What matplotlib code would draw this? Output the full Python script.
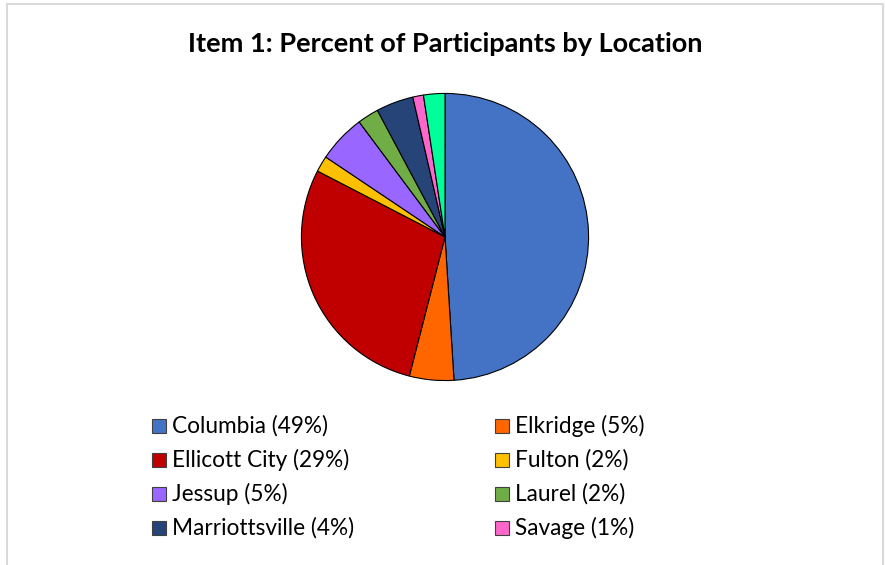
import matplotlib.pyplot as plt
from matplotlib.patches import Rectangle

# Data (percent of participants)
locations = ['Columbia', 'Elkridge', 'Ellicott City', 'Fulton', 'Jessup',
             'Laurel', 'Marriottsville', 'Savage', 'Other']
values = [49.0, 5.0, 28.6, 1.8, 5.4, 2.4, 4.2, 1.2, 2.4]
legend_labels = ['Columbia (49%)', 'Elkridge (5%)', 'Ellicott City (29%)', 'Fulton (2%)',
                 'Jessup (5%)', 'Laurel (2%)', 'Marriottsville (4%)', 'Savage (1%)']
colors = ['#4472C4', '#FF6600', '#C00000', '#FFC000', '#9966FF',
          '#70AD47', '#264478', '#FF66CC', '#00FF99']

W, H = 885, 565
fig = plt.figure(figsize=(W / 100, H / 100), dpi=100)
font = 'Lato'

# light grey chart-area border (bottom is cut off in the original)
fig.add_artist(Rectangle((6.5 / W, -0.05), 876 / W, (H - 3.5) / H + 0.05,
                         transform=fig.transFigure, fill=False,
                         edgecolor='#D9D9D9', linewidth=1.5))

fig.text(445 / W, 1 - 44 / H, 'Item 1: Percent of Participants by Location',
         ha='center', va='center', fontsize=19.5, fontweight='bold',
         family=font, color='black')

# pie: centre (445, 237) px, radius 145 px
cx, cy, r = 445, 237, 145
ax = fig.add_axes([(cx - r) / W, (H - cy - r) / H, 2 * r / W, 2 * r / H])
ax.pie(values, colors=colors, startangle=90, counterclock=False, radius=1,
       wedgeprops={'edgecolor': 'black', 'linewidth': 0.8})
ax.set_xlim(-1.01, 1.01)
ax.set_ylim(-1.01, 1.01)
ax.set_aspect('equal')
ax.axis('off')

# legend, two columns
for i, lab in enumerate(legend_labels):
    col, row = i % 2, i // 2
    x0 = 152 + col * 343
    y0 = 426 + row * 34
    fig.add_artist(Rectangle((x0 / W, 1 - (y0 + 7) / H), 14 / W, 14 / H,
                             transform=fig.transFigure, facecolor=colors[i],
                             edgecolor='#404040', linewidth=0.8))
    fig.text((x0 + 20) / W, 1 - y0 / H, lab, ha='left', va='center',
             fontsize=16.3, family=font, color='black')

fig.savefig('out.png', dpi=100)
